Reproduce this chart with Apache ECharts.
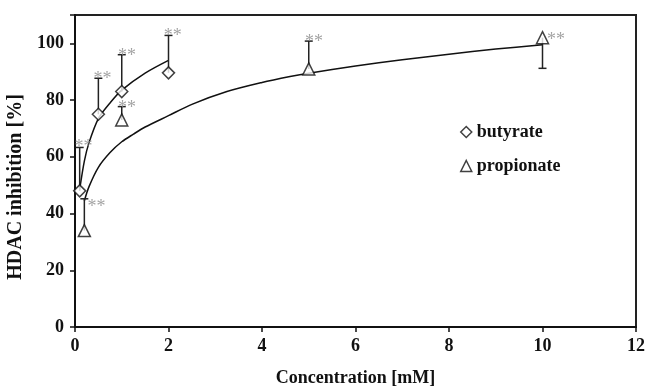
<!DOCTYPE html>
<html>
<head>
<meta charset="utf-8">
<script src="https://cdn.jsdelivr.net/npm/echarts@6/dist/echarts.min.js"></script>
<style>
  html, body { margin: 0; padding: 0; background: #fff; }
  #chart { width: 647px; height: 387px; }
</style>
</head>
<body>
<div id="chart"></div>
<script>
// measured points (mM, % inhibition)
var butyrateConc = [0.1, 0.5, 1, 2];
var butyrateVal = [48, 75, 83, 89.6];
var butyrateErrEnd = [63.3, 87.7, 96, 102.8];

var propionateConc = [0.2, 1, 5, 10];
var propionateVal = [34, 73, 91, 102];
var propionateErrEnd = [45.2, 77.7, 100.8, 91.2];

// fitted curves
var butyrateFitX = [0.1, 0.2, 0.3, 0.5, 0.75, 1, 1.5, 2];
var butyrateFitY = [48.5, 58.5, 65, 73.5, 79, 83.5, 89.5, 94];
var propionateFitX = [0.2, 0.3, 0.5, 0.75, 1, 1.25, 1.5, 2, 2.5, 3.25, 4, 4.6, 5, 6, 7, 8, 9, 10];
var propionateFitY = [44.5, 49.5, 56.3, 61.5, 65.3, 68, 70.5, 74.5, 78.5, 83, 86.2, 88.3, 89.5, 92, 94.2, 96.2, 98, 99.5];

// significance marks
var starX = [0.18, 0.59, 1.11, 2.09, 0.46, 1.11, 5.11, 10.29];
var starY = [65.1, 89.1, 97.1, 104.3, 44.0, 78.8, 102.2, 102.9];

var xTicks = [0, 2, 4, 6, 8, 10, 12];
var yTicks = [0, 20, 40, 60, 80, 100];

var font = 'Liberation Serif';

function zip(a, b) {
    return a.map(function(v, i) { return [v, b[i]]; });
}

function errBar(params, api) {
    var x = api.value(0);
    var p0 = api.coord([x, api.value(1)]);
    var p1 = api.coord([x, api.value(2)]);
    var half = 4;
    var st = { stroke: '#222', lineWidth: 1.5 };
    return {
        type: 'group',
        children: [
            { type: 'line', shape: { x1: p0[0], y1: p0[1], x2: p1[0], y2: p1[1] }, style: st },
            { type: 'line', shape: { x1: p1[0] - half, y1: p1[1], x2: p1[0] + half, y2: p1[1] }, style: st }
        ]
    };
}

var markerStyle = { color: '#fff', borderColor: '#111', borderWidth: 1.5 };

var option = {
    animation: false,
    backgroundColor: '#fff',
    grid: {
        left: 75, right: 11, top: 15, bottom: 60,
        outerBoundsMode: 'none',
        show: true, borderColor: '#222', borderWidth: 2
    },
    legend: {
        orient: 'vertical',
        left: 455,
        top: 118,
        itemWidth: 11,
        itemHeight: 11,
        itemGap: 16,
        textStyle: { fontFamily: font, fontWeight: 'bold', fontSize: 18, color: '#111' },
        data: [
            { name: 'butyrate', icon: 'diamond', itemStyle: markerStyle },
            { name: 'propionate', icon: 'triangle', itemStyle: markerStyle }
        ]
    },
    xAxis: {
        type: 'value',
        min: xTicks[0], max: xTicks[xTicks.length - 1], interval: 2,
        name: 'Concentration [mM]',
        nameLocation: 'middle',
        nameGap: 42,
        nameTextStyle: { fontFamily: font, fontWeight: 'bold', fontSize: 18, color: '#111' },
        axisLine: { lineStyle: { color: '#111', width: 2 } },
        axisTick: { length: 5, lineStyle: { color: '#111', width: 1.5 } },
        axisLabel: { margin: 10, fontFamily: font, fontWeight: 'bold', fontSize: 18, color: '#111' },
        splitLine: { show: false }
    },
    yAxis: {
        type: 'value',
        min: 0, max: 110, interval: 20,
        name: 'HDAC inhibition [%]',
        nameLocation: 'middle',
        nameGap: 42,
        nameTextStyle: { fontFamily: font, fontWeight: 'bold', fontSize: 20, color: '#111', padding: [0, 32, 0, 0] },
        axisLine: { lineStyle: { color: '#111', width: 2 } },
        axisTick: { length: 5, lineStyle: { color: '#111', width: 1.5 } },
        axisLabel: {
            margin: 11, fontFamily: font, fontWeight: 'bold', fontSize: 18, color: '#111',
            formatter: function(v) { return yTicks.indexOf(v) >= 0 ? String(v) : ''; }
        },
        splitLine: { show: false }
    },
    series: [
        {
            type: 'line', name: 'butyrate fit', data: zip(butyrateFitX, butyrateFitY),
            smooth: 0.3, showSymbol: false, silent: true, z: 2,
            lineStyle: { color: '#111', width: 1.5 }
        },
        {
            type: 'line', name: 'propionate fit', data: zip(propionateFitX, propionateFitY),
            smooth: 0.3, showSymbol: false, silent: true, z: 2,
            lineStyle: { color: '#111', width: 1.5 }
        },
        {
            type: 'custom', name: 'butyrate err', renderItem: errBar, z: 3,
            data: butyrateConc.map(function(c, i) { return [c, butyrateVal[i], butyrateErrEnd[i]]; })
        },
        {
            type: 'custom', name: 'propionate err', renderItem: errBar, z: 3,
            data: propionateConc.map(function(c, i) { return [c, propionateVal[i], propionateErrEnd[i]]; })
        },
        {
            type: 'scatter', name: 'butyrate', data: zip(butyrateConc, butyrateVal),
            symbol: 'diamond', symbolSize: 12, z: 5, itemStyle: markerStyle
        },
        {
            type: 'scatter', name: 'propionate', data: zip(propionateConc, propionateVal),
            symbol: 'triangle', symbolSize: 12, z: 5, itemStyle: markerStyle
        },
        {
            type: 'scatter', name: 'stars', data: zip(starX, starY),
            symbolSize: 0, silent: true, z: 6,
            label: {
                show: true, position: 'inside', formatter: '**',
                fontFamily: font, fontSize: 18, color: '#8c8c8c', offset: [0, 5]
            }
        }
    ]
};

var myChart = echarts.init(document.getElementById('chart'));
myChart.setOption(option);
</script>
</body>
</html>
